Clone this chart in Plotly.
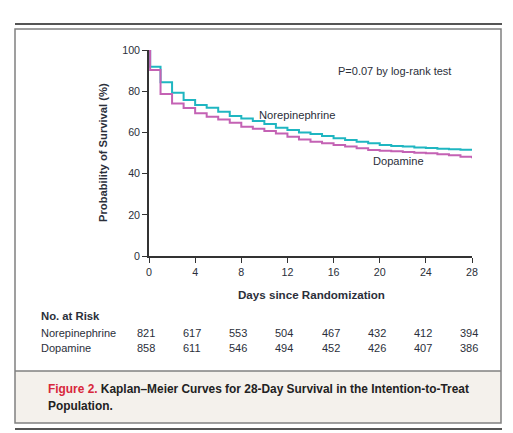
import plotly.graph_objects as go

# ---- data ----
ne_days = [0, 0.1, 1, 2, 3, 4, 5, 6, 7, 8, 9, 10, 11, 12, 13, 14, 15, 16, 17, 18, 19, 20, 21, 22, 23, 24, 25, 26, 27, 28]
ne_surv = [100, 91.9, 84.4, 79.3, 75.7, 73.3, 72.0, 70.0, 68.0, 66.8, 65.5, 64.1, 62.3, 61.2, 60.0, 59.2, 58.3, 57.1,
           56.3, 55.5, 54.7, 53.9, 53.4, 53.1, 52.7, 52.4, 52.1, 51.8, 51.6, 51.5]
dop_days = [0, 0.1, 1, 2, 3, 4, 5, 6, 7, 8, 9, 10, 11, 12, 13, 14, 15, 16, 17, 18, 19, 20, 21, 22, 23, 24, 25, 26, 27, 28]
dop_surv = [100, 90.3, 78.6, 74.0, 71.8, 69.3, 67.6, 66.3, 64.7, 62.8, 61.8, 60.7, 59.5, 57.9, 56.6, 55.5, 54.7, 53.9,
            53.1, 52.3, 51.5, 51.1, 50.8, 50.5, 50.1, 49.9, 49.4, 48.9, 48.2, 47.5]
risk_days = [0, 4, 8, 12, 16, 20, 24, 28]
ne_risk = [821, 617, 553, 504, 467, 432, 412, 394]
dop_risk = [858, 611, 546, 494, 452, 426, 407, 386]
x_ticks = [0, 4, 8, 12, 16, 20, 24, 28]
y_ticks = [0, 20, 40, 60, 80, 100]

# ---- layout geometry (pixels) ----
OFF = 8  # page body margin
W, H = 505, 425
L, R, T, B = 141, 41, 42, 177
PW, PH = W - L - R, H - T - B

def px(x):  # window pixel -> paper x
    return (x - OFF - L) / PW

def py(y):  # window pixel -> paper y
    return (H - B - (y - OFF)) / PH

FONT = "Liberation Sans, Arial, sans-serif"
TXT = "#2b2f3a"
TEAL = "#1fb6c1"
MAG = "#c462b4"

fig = go.Figure()
fig.add_trace(go.Scatter(x=ne_days, y=ne_surv, mode="lines", line=dict(color=TEAL, width=2, shape="hv"),
                         name="Norepinephrine", hoverinfo="skip"))
fig.add_trace(go.Scatter(x=dop_days, y=dop_surv, mode="lines", line=dict(color=MAG, width=2, shape="hv"),
                         name="Dopamine", hoverinfo="skip"))

fig.update_layout(
    width=W, height=H,
    margin=dict(l=L, r=R, t=T, b=B, pad=0),
    paper_bgcolor="white", plot_bgcolor="white",
    showlegend=False,
    font=dict(family=FONT, color=TXT, size=11),
    xaxis=dict(range=[0, 28], tickvals=x_ticks, showgrid=False, zeroline=False, showline=True,
               linecolor="#333", linewidth=1.6, ticks="outside", ticklen=5, tickwidth=1.4, tickcolor="#333",
               tickfont=dict(size=10.7, color=TXT), fixedrange=True),
    yaxis=dict(range=[0, 100], tickvals=y_ticks, showgrid=False, zeroline=False, showline=True,
               linecolor="#333", linewidth=1.6, ticks="outside", ticklen=5, tickwidth=1.4, tickcolor="#333",
               tickfont=dict(size=10.7, color=TXT), fixedrange=True),
)

ann = []
def text(x, y, s, size=11, bold=False, xanchor="left", color=TXT, angle=0):
    if bold:
        s = "<b>" + s + "</b>"
    ann.append(dict(x=x, y=y, xref="paper", yref="paper", text=s, showarrow=False, xanchor=xanchor,
                    yanchor="middle", textangle=angle, font=dict(size=size, color=color, family=FONT)))

text(px(336), py(71), "P=0.07 by log-rank test", size=11)
text(px(257), py(115), "Norepinephrine", size=11.2)
text(px(371), py(161), "Dopamine", size=11.1)
text(px(103), py(153), "Probability of Survival (%)", size=11.2, bold=True, xanchor="center", angle=-90)
text(px(311), py(294), "Days since Randomization", size=11.6, bold=True, xanchor="center")
text(px(39), py(316), "No. at Risk", size=11.3, bold=True)
text(px(39), py(333), "Norepinephrine", size=11)
text(px(39), py(348), "Dopamine", size=11)
for d, a, b in zip(risk_days, ne_risk, dop_risk):
    ann.append(dict(x=d, y=py(333), xref="x", yref="paper", text=str(a), showarrow=False, xanchor="center",
                    yanchor="middle", xshift=-3, font=dict(size=11, color=TXT, family=FONT)))
    ann.append(dict(x=d, y=py(348), xref="x", yref="paper", text=str(b), showarrow=False, xanchor="center",
                    yanchor="middle", xshift=-3, font=dict(size=11, color=TXT, family=FONT)))

ann.append(dict(x=px(46), y=py(389), xref="paper", yref="paper", showarrow=False, xanchor="left", yanchor="middle",
                text="<b><span style='color:#d8283c'>Figure 2.</span> Kaplan\u2013Meier Curves for 28-Day Survival in the Intention-to-Treat</b>",
                font=dict(size=11.9, color="#222", family=FONT)))
ann.append(dict(x=px(46), y=py(406), xref="paper", yref="paper", showarrow=False, xanchor="left", yanchor="middle",
                text="<b>Population.</b>", font=dict(size=11.9, color="#222", family=FONT)))
fig.update_layout(annotations=ann)

shapes = [
    dict(type="rect", xref="paper", yref="paper", x0=px(15), x1=px(501), y0=py(423), y1=py(371),
         fillcolor="#f4f1ec", line=dict(width=0), layer="below"),
    dict(type="rect", xref="paper", yref="paper", x0=px(15), x1=px(501), y0=py(423), y1=py(29),
         line=dict(color="#808080", width=1.5)),
    dict(type="line", xref="paper", yref="paper", x0=px(15), x1=px(501), y0=py(371), y1=py(371),
         line=dict(color="#808080", width=1.5)),
    dict(type="line", xref="paper", yref="paper", x0=px(15), x1=px(502), y0=py(24), y1=py(24),
         line=dict(color="#555", width=2)),
    dict(type="line", xref="paper", yref="paper", x0=px(15), x1=px(502), y0=py(429), y1=py(429),
         line=dict(color="#555", width=2)),
]
fig.update_layout(shapes=shapes)

fig.write_html("out.html")
